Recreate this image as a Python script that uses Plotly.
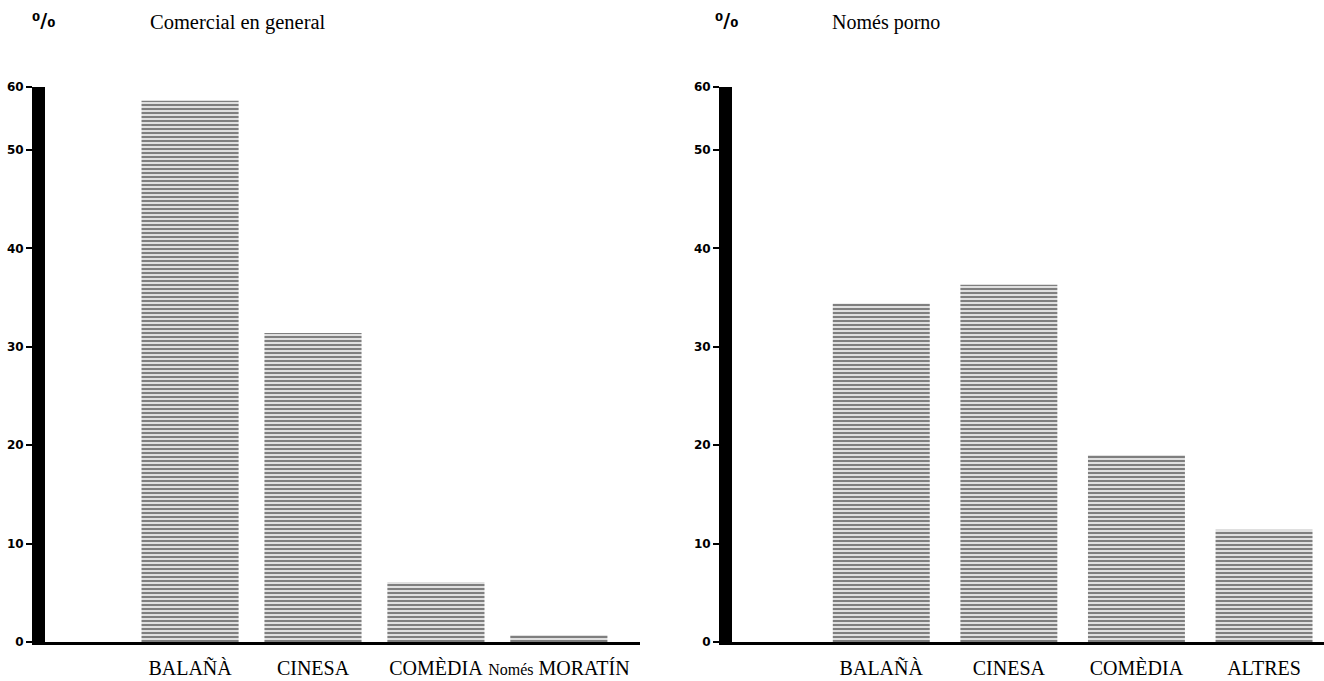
import plotly.graph_objects as go

# ---- data ----
left_categories = ["BALAÑÀ", "CINESA", "COMÈDIA", "Només MORATÍN"]
left_values = [55.0, 31.4, 6.1, 0.7]
left_ticktext = ["BALAÑÀ", "CINESA", "COMÈDIA",
                 "<span style='font-size:16px'>Només</span> MORATÍN"]

right_categories = ["BALAÑÀ", "CINESA", "COMÈDIA", "ALTRES"]
right_values = [34.4, 36.3, 19.0, 11.4]

y_tickvals = [0, 10, 20, 30, 40, 50, 56.4]
y_ticktext = ["0", "10", "20", "30", "40", "50", "60"]

left_title = "Comercial en general"
right_title = "Només porno"

W, H = 1324, 681
SERIF = "Liberation Serif"

pattern = dict(shape="-", fgcolor="black", bgcolor="white", size=4, solidity=0.62)

fig = go.Figure()
fig.add_trace(go.Bar(x=left_categories, y=left_values, xaxis="x", yaxis="y",
                     width=0.79, marker=dict(color="white", pattern=pattern,
                                             line=dict(width=0)),
                     showlegend=False, hoverinfo="x+y"))
fig.add_trace(go.Bar(x=right_categories, y=right_values, xaxis="x2", yaxis="y2",
                     width=0.76, marker=dict(color="white", pattern=pattern,
                                             line=dict(width=0)),
                     showlegend=False, hoverinfo="x+y"))

y_bottom = 1 - 642 / H
y_top = 1 - 87 / H

common_y = dict(range=[0, 56.4], tickvals=y_tickvals, ticktext=y_ticktext,
                showgrid=False, zeroline=False, showline=True, linecolor="black",
                linewidth=13, ticks="outside", ticklen=6, tickwidth=1.5,
                tickcolor="black", automargin=False,
                tickfont=dict(family="DejaVu Sans", size=12, color="black", weight="bold"),
                domain=[y_bottom, y_top], fixedrange=True)

common_x = dict(showgrid=False, zeroline=False, showline=True, linecolor="black",
                linewidth=3, ticks="", ticklabelstandoff=6, automargin=False,
                tickfont=dict(family=SERIF, size=20, color="black"), fixedrange=True)

fig.update_layout(
    width=W, height=H,
    margin=dict(l=0, r=0, t=0, b=0, autoexpand=False),
    paper_bgcolor="white", plot_bgcolor="white",
    bargap=0.2,
    xaxis=dict(common_x, domain=[45 / W, 640 / W], range=[-1.18, 3.66],
               type="category", tickvals=left_categories, ticktext=left_ticktext,
               anchor="y"),
    yaxis=dict(common_y, anchor="x"),
    xaxis2=dict(common_x, domain=[732 / W, 1.0], range=[-1.17, 3.47],
                type="category", anchor="y2"),
    yaxis2=dict(common_y, anchor="x2"),
    annotations=[
        dict(text=left_title, x=148 / W, y=1 - 22 / H, xref="paper", yref="paper",
             xanchor="left", yanchor="middle", showarrow=False,
             font=dict(family=SERIF, size=20.5, color="black")),
        dict(text=right_title, x=830 / W, y=1 - 22 / H, xref="paper", yref="paper",
             xanchor="left", yanchor="middle", showarrow=False,
             font=dict(family=SERIF, size=20, color="black")),
        dict(text="⁰/₀", x=44 / W, y=1 - 20 / H, xref="paper", yref="paper",
             xanchor="center", yanchor="middle", showarrow=False,
             font=dict(family="DejaVu Sans", size=19, color="black", weight="bold")),
        dict(text="⁰/₀", x=727 / W, y=1 - 20 / H, xref="paper", yref="paper",
             xanchor="center", yanchor="middle", showarrow=False,
             font=dict(family="DejaVu Sans", size=19, color="black", weight="bold")),
    ],
)

fig.write_html("out.html",
               config={"displayModeBar": False},
               post_script="document.body.style.margin='0';"
                           "document.body.style.overflow='hidden';")
